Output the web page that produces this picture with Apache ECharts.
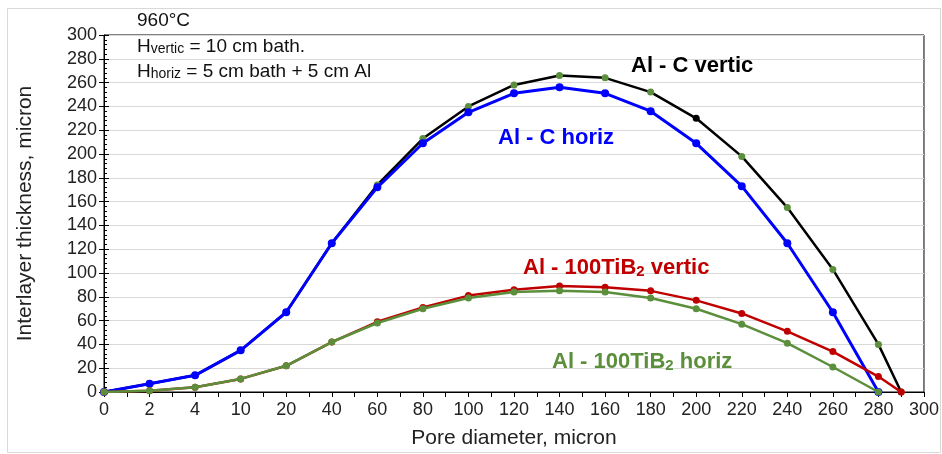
<!DOCTYPE html>
<html>
<head>
<meta charset="utf-8">
<script src="https://cdn.jsdelivr.net/npm/echarts@6/dist/echarts.min.js"></script>
<style>
  html, body { margin: 0; padding: 0; background: #fff; }
  #chart { width: 942px; height: 454px; }
</style>
</head>
<body>
<div id="chart"></div>
<script>
// x tick labels (Excel category axis, evenly spaced)
const xTicks = [0, 2, 4, 10, 20, 40, 60, 80, 100, 120, 140, 160, 180, 200, 220, 240, 260, 280, 300];
const diamHoriz = [0, 2, 4, 10, 20, 40, 60, 80, 100, 120, 140, 160, 180, 200, 220, 240, 260, 280];
const diamVertic = [0, 2, 4, 10, 20, 40, 60, 80, 100, 120, 140, 160, 180, 200, 220, 240, 260, 280, 290];

const alCVertic = [0, 7, 14, 35, 67, 125, 174, 213, 240, 258, 266, 264, 252, 230, 198, 155, 103, 40, 0];
const alCHoriz = [0, 7, 14, 35, 67, 125, 172, 209, 235, 251, 256, 251, 236, 209, 173, 125, 67, 0];
const tibVertic = [0, 1, 4, 11, 22, 42, 59, 71, 81, 86, 89, 88, 85, 77, 66, 51, 34, 13, 0];
const tibHoriz = [0, 1, 4, 11, 22, 42, 58, 70, 79, 84, 85, 84, 79, 70, 57, 41, 21, 0];

const yTicks = { min: 0, max: 300, step: 20 };

const BLUE = '#0000ff', RED = '#c00000', GREEN = '#5b8f3b', BLACK = '#000';
const FONT = 'Liberation Sans, Arial, sans-serif';

// position on the evenly spaced category axis
function pos(d) {
  for (let i = 0; i < xTicks.length; i++) {
    if (xTicks[i] === d) return i;
    if (xTicks[i] > d) return i - 1 + (d - xTicks[i - 1]) / (xTicks[i] - xTicks[i - 1]);
  }
  return xTicks.length - 1;
}
function pairs(xs, ys) { return xs.map((d, i) => [pos(d), ys[i]]); }

const chart = echarts.init(document.getElementById('chart'));

const sub = { a: { fontSize: 19, fontFamily: FONT, fill: '#111', lineHeight: 22, verticalAlign: 'bottom' },
              s: { fontSize: 14, fontFamily: FONT, fill: '#111', lineHeight: 17, verticalAlign: 'bottom' } };
function boldRich(color) {
  return { b: { fontSize: 22, fontWeight: 'bold', fontFamily: FONT, fill: color, lineHeight: 26, verticalAlign: 'bottom' },
           s: { fontSize: 15, fontWeight: 'bold', fontFamily: FONT, fill: color, lineHeight: 19, verticalAlign: 'bottom' } };
}

// black series: green markers except the one at 200
const blackData = pairs(diamVertic, alCVertic).map((p, i) =>
  diamVertic[i] === 200 ? { value: p, itemStyle: { color: BLACK } } : p);

const option = {
  animation: false,
  backgroundColor: '#fff',
  grid: { left: 104, right: 18, top: 35, bottom: 60, show: true, borderColor: '#000', borderWidth: 1 },
  xAxis: {
    type: 'value', min: 0, max: xTicks.length - 1, interval: 1,
    name: 'Pore diameter, micron', nameLocation: 'middle', nameGap: 36,
    nameTextStyle: { fontSize: 21, fontFamily: FONT, color: '#222' },
    axisLine: { lineStyle: { color: '#000', width: 1 } },
    axisTick: { length: 5, lineStyle: { color: '#000' } },
    minorTick: { show: true, splitNumber: 2, length: 5, lineStyle: { color: '#000' } },
    axisLabel: { fontSize: 18, fontFamily: FONT, color: '#222', margin: 9,
                 formatter: v => xTicks[Math.round(v)] },
    splitLine: { show: false }
  },
  yAxis: [{
    type: 'value', min: yTicks.min, max: yTicks.max, interval: yTicks.step,
    name: 'Interlayer thickness, micron', nameLocation: 'middle', nameGap: 68,
    nameTextStyle: { fontSize: 21, fontFamily: FONT, color: '#222' },
    axisLine: { show: true, lineStyle: { color: '#000' } },
    axisTick: { show: true, length: 5, lineStyle: { color: '#000' } },
    axisLabel: { fontSize: 18, fontFamily: FONT, color: '#222', margin: 7 },
    splitLine: { lineStyle: { color: '#d9d9d9', width: 1 } }
  }, {
    type: 'value', min: yTicks.min, max: yTicks.max, interval: yTicks.step, position: 'left',
    axisLine: { show: false },
    axisTick: { show: true, inside: true, length: 5, lineStyle: { color: '#000' } },
    minorTick: { show: true, splitNumber: 5, length: 3, lineStyle: { color: '#000' } },
    axisLabel: { show: false },
    splitLine: { show: false }
  }],
  series: [
    { name: 'Al - C vertic', type: 'line', data: blackData, symbol: 'circle', symbolSize: 7,
      lineStyle: { color: BLACK, width: 2.5 }, itemStyle: { color: GREEN }, z: 2 },
    { name: 'Al - C horiz', type: 'line', data: pairs(diamHoriz, alCHoriz), symbol: 'circle', symbolSize: 8,
      lineStyle: { color: BLUE, width: 3 }, itemStyle: { color: BLUE }, z: 3 },
    { name: 'Al - 100TiB2 vertic', type: 'line', data: pairs(diamVertic, tibVertic), symbol: 'circle', symbolSize: 7,
      lineStyle: { color: RED, width: 2.5 }, itemStyle: { color: RED }, z: 4 },
    { name: 'Al - 100TiB2 horiz', type: 'line', data: pairs(diamHoriz, tibHoriz), symbol: 'circle', symbolSize: 7,
      lineStyle: { color: GREEN, width: 2.5 }, itemStyle: { color: GREEN }, z: 5 }
  ],
  graphic: [
    { type: 'rect', shape: { x: 7.5, y: 8.5, width: 933, height: 444 }, silent: true, z: -10,
      style: { fill: 'none', stroke: '#d9d9d9', lineWidth: 1 } },
    { type: 'text', left: 137, top: 11, z: 100, style: { text: '960°C', font: '19px ' + FONT, fill: '#111' } },
    { type: 'text', left: 137, top: 37, z: 100, style: { text: '{a|H}{s|vertic}{a| = 10 cm bath.}', rich: sub } },
    { type: 'text', left: 137, top: 62, z: 100, style: { text: '{a|H}{s|horiz}{a| = 5 cm bath + 5 cm Al}', rich: sub } },
    { type: 'text', left: 631, top: 55, z: 100, style: { text: '{b|Al - C vertic}', rich: boldRich(BLACK) } },
    { type: 'text', left: 498, top: 127, z: 100, style: { text: '{b|Al - C horiz}', rich: boldRich(BLUE) } },
    { type: 'text', left: 523, top: 257, z: 100, style: { text: '{b|Al - 100TiB}{s|2}{b| vertic}', rich: boldRich(RED) } },
    { type: 'text', left: 552, top: 351, z: 100, style: { text: '{b|Al - 100TiB}{s|2}{b| horiz}', rich: boldRich(GREEN) } }
  ]
};
chart.setOption(option);
</script>
</body>
</html>
